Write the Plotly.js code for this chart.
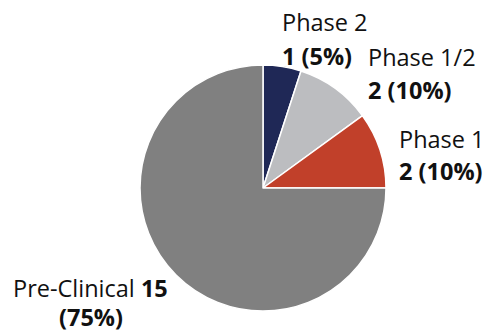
<!DOCTYPE html>
<html>
<head>
<meta charset="utf-8">
<script src="https://cdn.plot.ly/plotly-3.0.1.min.js"></script>
<style>html,body{margin:0;padding:0;background:#fff;}#chart{width:486px;height:332px;}</style>
</head>
<body>
<div id="chart"></div>
<script>
const labels = ["Phase 2", "Phase 1/2", "Phase 1", "Pre-Clinical"];
const values = [1, 2, 2, 15];
const colors = ["#1f2856", "#bcbdc0", "#c1402a", "#808080"];

const total = values.reduce((a, b) => a + b, 0);
const pct = values.map(v => Math.round(v / total * 100));

const W = 486, H = 332;
const M = {l: 140, r: 100, t: 65, b: 21};
const pw = W - M.l - M.r, ph = H - M.t - M.b;
const px = x => (x - M.l) / pw;
const py = y => 1 - (y - M.t) / ph;

const font = {family: "'Open Sans', sans-serif", size: 23.5, color: "#111"};
function ann(text, x, y, anchor) {
  return {text: text, x: px(x), y: py(y), xref: "paper", yref: "paper",
          xanchor: anchor || "left", yanchor: "middle", showarrow: false,
          borderpad: 0, font: font};
}

const annotations = [
  ann(labels[0], 281, 22),
  ann("<b>" + values[0] + " (" + pct[0] + "%)</b>", 281, 56),
  ann(labels[1], 367, 57),
  ann("<b>" + values[1] + " (" + pct[1] + "%)</b>", 367, 90),
  ann(labels[2], 398, 139),
  ann("<b>" + values[2] + " (" + pct[2] + "%)</b>", 398, 171),
  ann(labels[3] + " <b>" + values[3] + "</b>", 90, 288, "center"),
  ann("<b>(" + pct[3] + "%)</b>", 91, 317, "center")
];

Plotly.newPlot("chart", [{
  type: "pie",
  labels: labels,
  values: values,
  sort: false,
  direction: "clockwise",
  rotation: 0,
  textinfo: "none",
  hoverinfo: "none",
  marker: {colors: colors, line: {color: "#ffffff", width: 1.5}}
}], {
  width: W, height: H,
  margin: M,
  showlegend: false,
  paper_bgcolor: "#fff",
  plot_bgcolor: "#fff",
  annotations: annotations
}, {staticPlot: true, displayModeBar: false});
</script>
</body>
</html>
